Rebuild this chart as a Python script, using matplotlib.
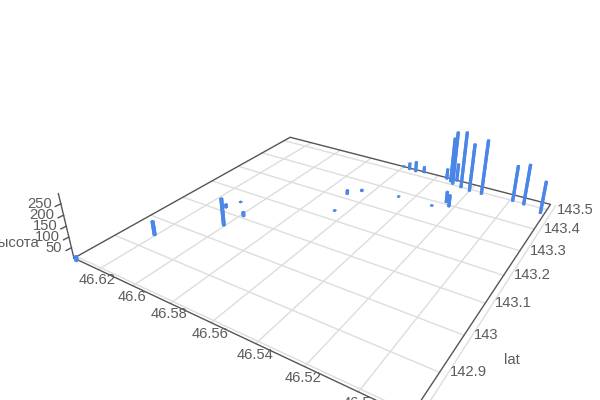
import numpy as np
import matplotlib
matplotlib.use('Agg')
import matplotlib.pyplot as plt
from mpl_toolkits.mplot3d import proj3d

plt.rcParams['font.family'] = ['Liberation Sans', 'DejaVu Sans']
plt.rcParams['font.size'] = 10.6

# values
xs = [46.6322, 46.6203, 46.6003, 46.6103, 46.6079, 46.5982, 46.5656, 46.5692, 46.5647,
      46.5467, 46.5597, 46.5558, 46.5519, 46.5477, 46.5294, 46.5250, 46.5223, 46.5347,
      46.5318, 46.5299, 46.5295, 46.5249, 46.5200, 46.5138, 46.4986, 46.4931, 46.4841]
ys = [142.795, 142.945, 143.053, 143.116, 143.153, 143.107, 143.236, 143.320, 143.351,
      143.373, 143.527, 143.521, 143.518, 143.524, 143.375, 143.409, 143.393, 143.522,
      143.513, 143.504, 143.525, 143.497, 143.491, 143.491, 143.497, 143.494, 143.475]
heights = [24, 71.5, 137.5, 19.5, 5.5, 24, 5.5, 23.5, 11, 5.5, 6, 37.5, 57, 34, 5.5, 58,
           61.5, 56, 236, 278, 94, 294, 248.5, 282.5, 185.5, 208, 163]

x_ticks = [46.62, 46.6, 46.58, 46.56, 46.54, 46.52, 46.5, 46.48]
x_labels = ['46.62', '46.6', '46.58', '46.56', '46.54', '46.52', '46.5']
y_ticks = [143.5, 143.4, 143.3, 143.2, 143.1, 143, 142.9, 142.805]
y_labels = ['143.5', '143.4', '143.3', '143.2', '143.1', '143', '142.9']
z_ticks = [50, 100, 150, 200, 250]

x_min, x_max = 46.48242, 46.63500
y_min, y_max = 142.79861, 143.52890
z_max = 294.1

grid_c = '#dddddd'
axis_c = '#555555'
text_c = '#5c5c5c'

fig = plt.figure(figsize=(6, 4), dpi=100)
# camera fitted to the reference, shifted a bit because the view is panned
ax = fig.add_axes([24.4 / 600, -5 / 400, 1, 1], projection='3d', computed_zorder=False)
ax.set_proj_type('persp', focal_length=0.28181)
ax.view_init(elev=28.6, azim=-57.43, roll=0)
ax._box_aspect = np.array([1.63566, 1.6224, 0.3211])
ax.set_xlim(x_max, x_min)
ax.set_ylim(y_min, y_max)
ax.set_zlim(0, z_max)
ax.set_axis_off()

for v in x_ticks:
    ax.plot([v, v], [y_min, y_max], [0, 0], color=grid_c, lw=1, zorder=1, clip_on=False)
for v in y_ticks:
    ax.plot([x_min, x_max], [v, v], [0, 0], color=grid_c, lw=1, zorder=1, clip_on=False)

ax.plot([x_max, x_max, x_min, x_min, x_max], [y_min, y_max, y_max, y_min, y_min], [0] * 5,
        color=axis_c, lw=1, zorder=2, clip_on=False)
ax.plot([x_max, x_max], [y_min, y_min], [0, z_max], color=axis_c, lw=1, zorder=2, clip_on=False)
for v in z_ticks:
    ax.plot([x_max, x_max], [y_min, y_min - 0.012], [v, v], color=axis_c, lw=1, zorder=2,
            clip_on=False)

bar_dx, bar_dy = 0.0012, 0.0058
bars = ax.bar3d(np.array(xs) - bar_dx / 2, np.array(ys) - bar_dy / 2, 0, bar_dx, bar_dy, heights,
                color='#4a86e8', shade=False, zorder=3, edgecolor='none')
bars.set_clip_on(False)


def label(x, y, z, s, ox, oy, **kw):
    px, py, _ = proj3d.proj_transform(x, y, z, ax.get_proj())
    ax.annotate(s, (px, py), xytext=(ox, oy), textcoords='offset pixels', color=text_c,
                annotation_clip=False, **kw)


for v, s in zip(x_ticks, x_labels):
    label(v, y_min, 0, s, -1, -11, ha='center', va='center')
for v, s in zip(y_ticks, y_labels):
    label(x_min, v, 0, s, 10, 0, ha='left', va='center')
for v in z_ticks:
    label(x_max, y_min, v, str(v), -9, 0, ha='right', va='center')
label(x_max, y_min, 100, 'высота', -30, -6, ha='right', va='center')
label(x_min, 143, 0, 'lat', 48, -25, ha='center', va='center')

fig.savefig('out.png', dpi=100)
